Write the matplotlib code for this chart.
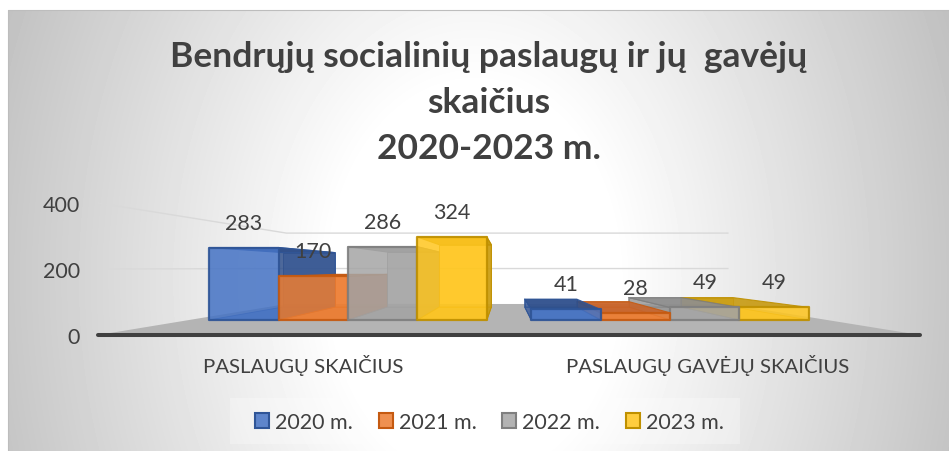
import numpy as np
import matplotlib
matplotlib.use("Agg")
import matplotlib.pyplot as plt
from matplotlib.patches import Polygon, Rectangle, Patch
from matplotlib.colors import to_rgba

categories = ["PASLAUGŲ SKAIČIUS", "PASLAUGŲ GAVĖJŲ SKAIČIUS"]
series_names = ["2020 m.", "2021 m.", "2022 m.", "2023 m."]
v2020 = [283, 41]
v2021 = [170, 28]
v2022 = [286, 49]
v2023 = [324, 49]
yticks = [0, 200, 400]
title = "Bendrųjų socialinių paslaugų ir jų  gavėjų\nskaičius\n2020-2023 m."

face = ["#4472C4", "#ED7D31", "#A5A5A5", "#FFC61E"]
edge = ["#2F5597", "#C55A11", "#7F7F7F", "#BF9000"]
side = ["#2F4F8A", "#C8642A", "#8C8C8C", "#C79A10"]
TXT = "#404040"

plt.rcParams['font.family'] = ['Lato', 'DejaVu Sans']
W, H = 949, 452
fig = plt.figure(figsize=(W/100, H/100), dpi=100)

# background gradient
bg = fig.add_axes([0, 0, 1, 1]); bg.axis("off")
xx, yy = np.meshgrid(np.linspace(0, 1, W), np.linspace(0, 1, H))
r = np.sqrt(((xx-0.5)/0.5)**2 + (0.35*(yy-0.62)/0.5)**2)
g = 1 - np.clip((r-0.3)/0.7, 0, 1.15)*0.22
bg.imshow(g, cmap="gray", vmin=0, vmax=1, extent=(0, W, H, 0), aspect="auto")
bg.set_xlim(0, W); bg.set_ylim(H, 0)
bg.add_patch(Rectangle((0, 0), 8, H, fc="white", ec="none"))
bg.add_patch(Rectangle((0, 0), W, 11, fc="white", ec="none"))
bg.plot([8, 8, W], [H, 11, 11], color="#BDBDBD", lw=0.8)
bg.add_patch(Rectangle((230, 399), 510, 46, fc="white", alpha=0.28, ec="none"))

# main axes: y in values, x in category units; full-figure
PX_PER_V = 0.33
Y0 = 336
UNIT = 415.0
X0 = 302.7
ax = fig.add_axes([0, 0, 1, 1], facecolor="none")
ax.set_xlim((0-X0)/UNIT, (W-X0)/UNIT)
ax.set_ylim((Y0-H)/PX_PER_V, Y0/PX_PER_V)
ax.axis("off")

VX = (505-X0)/UNIT
VY = (Y0-269)/PX_PER_V
Z_FRONT, Z_BACK, Z_FLOOR = 0.224, 0.418, 0.463

def proj(x, v, z):
    s = 1 - z
    return (VX + (x-VX)*s, VY + (v-VY)*s)

xl = (98-X0)/UNIT; xr = (920-X0)/UNIT

# gridlines
for t in yticks[1:]:
    pts = [proj(xl, t, 0), proj(xl, t, Z_FLOOR), proj(xr, t, Z_FLOOR)]
    ax.plot(*zip(*pts), color="#D9D9D9", lw=1.0, zorder=1)

# floor
ax.add_patch(Polygon([proj(xl, 0, 0), proj(xl, 0, Z_FLOOR), proj(xr, 0, Z_FLOOR), proj(xr, 0, 0)],
                     fc="#B4B4B4", ec="none", zorder=2))
ax.plot([xl, xr], [0, 0], color="#404040", lw=2.9, solid_capstyle="round", zorder=3)

# bars
series = [v2020, v2021, v2022, v2023]
BW = 0.2155
z = 4
a = proj
for ci in range(len(categories)):
    order = range(4) if ci == 0 else range(3, -1, -1)
    for si in order:
        v = series[si][ci]
        x0 = ci + (si-2)*BW
        x1 = x0 + BW
        f, e, sd = face[si], edge[si], side[si]
        quads = []
        quads.append(([a(x0,0,Z_BACK), a(x1,0,Z_BACK), a(x1,v,Z_BACK), a(x0,v,Z_BACK)], f, 0.55, 0.6))
        quads.append(([a(x0,0,Z_FRONT), a(x1,0,Z_FRONT), a(x1,0,Z_BACK), a(x0,0,Z_BACK)], f, 0.55, 0.6))
        if x1 < VX + 0.02:
            quads.append(([a(x1,0,Z_FRONT), a(x1,0,Z_BACK), a(x1,v,Z_BACK), a(x1,v,Z_FRONT)], sd, 0.85, 0.8))
        if x0 > VX - 0.25:
            quads.append(([a(x0,0,Z_FRONT), a(x0,0,Z_BACK), a(x0,v,Z_BACK), a(x0,v,Z_FRONT)], sd, 0.55, 0.8))
        quads.append(([a(x0,v,Z_FRONT), a(x1,v,Z_FRONT), a(x1,v,Z_BACK), a(x0,v,Z_BACK)], sd, 0.9, 0.8))
        quads.append(([a(x0,0,Z_FRONT), a(x1,0,Z_FRONT), a(x1,v,Z_FRONT), a(x0,v,Z_FRONT)], f, 0.85, 1.6))
        for pts, c, al, lw in quads:
            ax.add_patch(Polygon(pts, fc=to_rgba(c, al), ec=to_rgba(e, 0.9), lw=lw, zorder=z, joinstyle="round"))
            z += 0.01
        # value label
        tx, ty = proj(x0+BW/2, v, Z_FRONT)
        ax.text(tx, ty+25/PX_PER_V, str(v), ha="center", va="center",
                fontsize=15.5, color=TXT, zorder=50)

# y tick labels
for t in yticks:
    ax.text((80-X0)/UNIT, t-2/PX_PER_V, str(t), ha="right", va="center", fontsize=15.5, color=TXT, zorder=50)

# category labels
for lab, px in zip(categories, [303, 708]):
    ax.text((px-X0)/UNIT, (Y0-366)/PX_PER_V, lab, ha="center", va="center",
            fontsize=14.7, color=TXT, zorder=50)

# title
for line, py in zip(title.split("\n"), [57, 103, 149]):
    ax.text((489-X0)/UNIT, (Y0-py)/PX_PER_V, line, ha="center", va="center",
            fontsize=25.5, fontweight="bold", color=TXT, zorder=50)

# legend
handles = [Patch(fc=to_rgba(f, 0.85), ec=e, lw=1.5) for f, e in zip(face, edge)]
leg = ax.legend(handles, series_names, ncols=4, loc="center", bbox_to_anchor=(489.5/W, 1-423/H),
                bbox_transform=fig.transFigure, frameon=False, fontsize=15.5, labelcolor=TXT,
                handlelength=0.65, handleheight=0.65, handletextpad=0.28, columnspacing=1.2)
leg.set_zorder(60)

fig.savefig("out.png", dpi=100)
